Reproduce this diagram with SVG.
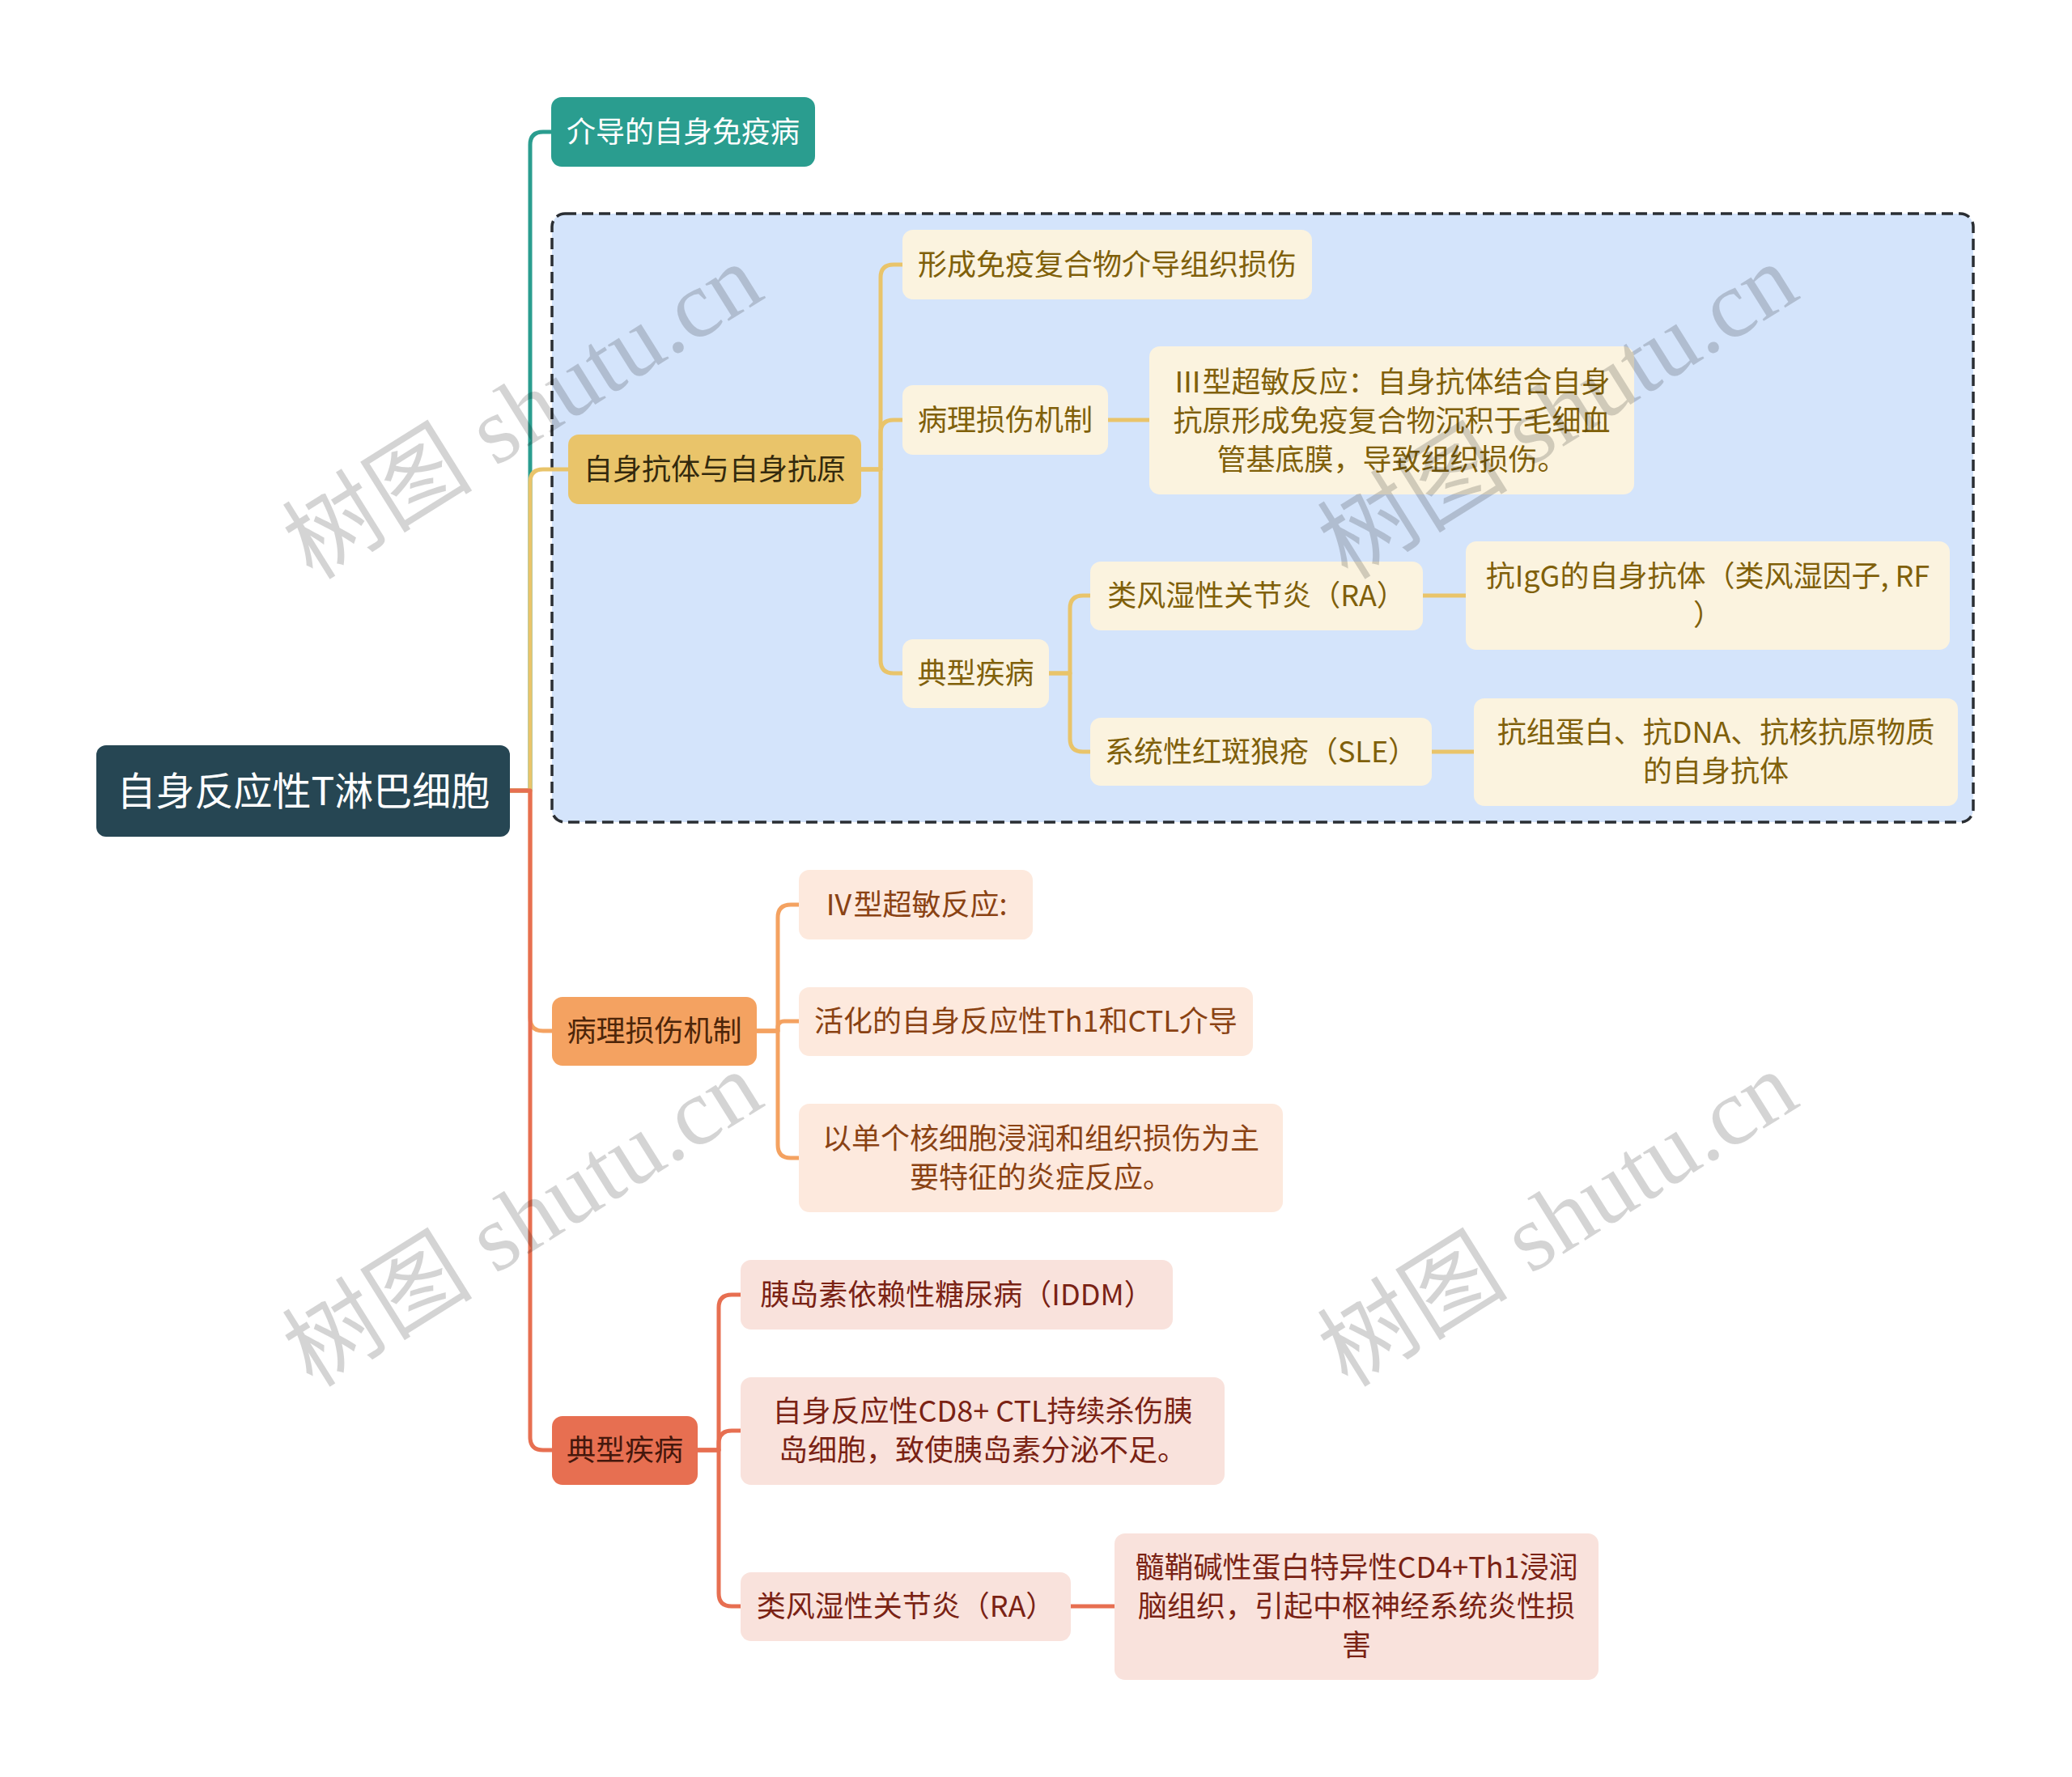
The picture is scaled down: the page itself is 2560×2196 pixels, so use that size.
<svg xmlns="http://www.w3.org/2000/svg" width="2560" height="2196" viewBox="0 0 2560 2196">
<style>
text{font-family:"Noto Sans CJK SC","Noto Sans",sans-serif;font-size:36px;text-anchor:middle}
.root-t{font-size:48px;fill:#ffffff}
.w{fill:#ffffff}
.l1y{fill:#33290d}
.l1o{fill:#4d2509}
.l1r{fill:#45170c}
.ty{fill:#80600a}
.to{fill:#8a4213}
.tr{fill:#7a2214}
.fy{fill:#fbf3df}
.fo{fill:#fde9dd}
.fr{fill:#f9e2dc}
.c{fill:none;stroke-width:5;stroke-linejoin:round}
.cg{stroke:#2a9d8f}.cy{stroke:#e9c46a}.co{stroke:#f4a261}.cr{stroke:#e76f51}
.wm{font-family:"Liberation Serif","Noto Sans CJK SC",serif;font-size:118px;fill:#000000;fill-opacity:0.17;text-anchor:middle}
</style>
<rect width="2560" height="2196" fill="#ffffff"/>
<g id="group-box">
<rect x="682" y="264" width="1756" height="752" rx="16" fill="#d4e4fb" stroke="#2a2e33" stroke-width="3.5" stroke-dasharray="14 7"/>
</g>
<g id="connectors">
<path class="c cg" d="M630,977 H655 V179 Q655,163 671,163 H681"/>
<path class="c cy" d="M630,977 H655 V596 Q655,580 671,580 H702"/>
<path class="c co" d="M630,977 H655 V1258 Q655,1274 671,1274 H682"/>
<path class="c cr" d="M630,977 H655 V1776 Q655,1792 671,1792 H682"/>
<path class="c cy" d="M1064,580 H1088 V343 Q1088,327 1104,327 H1115"/>
<path class="c cy" d="M1064,580 H1088 V535 Q1088,519 1104,519 H1115"/>
<path class="c cy" d="M1064,580 H1088 V816 Q1088,832 1104,832 H1115"/>
<path class="c cy" d="M1369,519 H1420"/>
<path class="c cy" d="M1296,832 H1322 V752 Q1322,736 1338,736 H1347"/>
<path class="c cy" d="M1296,832 H1322 V913 Q1322,929 1338,929 H1347"/>
<path class="c cy" d="M1758,736 H1811"/>
<path class="c cy" d="M1769,929 H1821"/>
<path class="c co" d="M935,1274 H961 V1134 Q961,1118 977,1118 H987"/>
<path class="c co" d="M935,1274 H961 V1270 Q961,1262 969,1262 H987"/>
<path class="c co" d="M935,1274 H961 V1415 Q961,1431 977,1431 H987"/>
<path class="c cr" d="M862,1792 H888 V1616 Q888,1600 904,1600 H915"/>
<path class="c cr" d="M862,1792 H888 V1784 Q888,1768 904,1768 H915"/>
<path class="c cr" d="M862,1792 H888 V1969 Q888,1985 904,1985 H915"/>
<path class="c cr" d="M1323,1985 H1377"/>
</g>
<g id="root">
<rect x="119" y="921" width="511" height="113" rx="12" fill="#264653"/>
<text class="root-t" x="375" y="995">自身反应性T淋巴细胞</text>
</g>
<g id="n-teal">
<rect x="681" y="120" width="326" height="86" rx="13" fill="#2a9d8f"/>
<text class="w" x="844" y="176">介导的自身免疫病</text>
</g>
<g id="n-yellow">
<rect x="702" y="537" width="362" height="86" rx="13" fill="#e9c46a"/>
<text class="l1y" x="883" y="593">自身抗体与自身抗原</text>
</g>
<g id="n-y-a">
<rect class="fy" x="1115" y="284" width="506" height="86" rx="13"/>
<text class="ty" x="1368" y="340">形成免疫复合物介导组织损伤</text>
</g>
<g id="n-y-b">
<rect class="fy" x="1115" y="476" width="254" height="86" rx="13"/>
<text class="ty" x="1242" y="532">病理损伤机制</text>
</g>
<g id="n-y-b1">
<rect class="fy" x="1420" y="428" width="599" height="183" rx="13"/>
<text class="ty" x="1719.5" y="485">Ⅲ型超敏反应：自身抗体结合自身</text>
<text class="ty" x="1719.5" y="533">抗原形成免疫复合物沉积于毛细血</text>
<text class="ty" x="1719.5" y="581">管基底膜，导致组织损伤。</text>
</g>
<g id="n-y-c">
<rect class="fy" x="1115" y="790" width="181" height="85" rx="13"/>
<text class="ty" x="1205.5" y="845">典型疾病</text>
</g>
<g id="n-y-c1">
<rect class="fy" x="1347" y="694" width="411" height="85" rx="13"/>
<text class="ty" x="1552.5" y="749">类风湿性关节炎（RA）</text>
</g>
<g id="n-y-c1a">
<rect class="fy" x="1811" y="669" width="598" height="134" rx="13"/>
<text class="ty" x="2110" y="725">抗IgG的自身抗体（类风湿因子, RF</text>
<text class="ty" x="2110" y="773">）</text>
</g>
<g id="n-y-c2">
<rect class="fy" x="1347" y="887" width="422" height="84" rx="13"/>
<text class="ty" x="1558" y="942">系统性红斑狼疮（SLE）</text>
</g>
<g id="n-y-c2a">
<rect class="fy" x="1821" y="863" width="598" height="133" rx="13"/>
<text class="ty" x="2120" y="918">抗组蛋白、抗DNA、抗核抗原物质</text>
<text class="ty" x="2120" y="966">的自身抗体</text>
</g>
<g id="n-orange">
<rect x="682" y="1232" width="253" height="85" rx="13" fill="#f4a261"/>
<text class="l1o" x="808.5" y="1287">病理损伤机制</text>
</g>
<g id="n-o-1">
<rect class="fo" x="987" y="1075" width="289" height="86" rx="13"/>
<text class="to" x="1131.5" y="1131">Ⅳ型超敏反应:</text>
</g>
<g id="n-o-2">
<rect class="fo" x="987" y="1220" width="561" height="85" rx="13"/>
<text class="to" x="1267.5" y="1275">活化的自身反应性Th1和CTL介导</text>
</g>
<g id="n-o-3">
<rect class="fo" x="987" y="1364" width="598" height="134" rx="13"/>
<text class="to" x="1286" y="1420">以单个核细胞浸润和组织损伤为主</text>
<text class="to" x="1286" y="1468">要特征的炎症反应。</text>
</g>
<g id="n-red">
<rect x="682" y="1750" width="180" height="85" rx="13" fill="#e76f51"/>
<text class="l1r" x="772" y="1805">典型疾病</text>
</g>
<g id="n-r-1">
<rect class="fr" x="915" y="1557" width="534" height="86" rx="13"/>
<text class="tr" x="1182" y="1613">胰岛素依赖性糖尿病（IDDM）</text>
</g>
<g id="n-r-2">
<rect class="fr" x="915" y="1702" width="598" height="133" rx="13"/>
<text class="tr" x="1214" y="1757">自身反应性CD8+ CTL持续杀伤胰</text>
<text class="tr" x="1214" y="1805">岛细胞，致使胰岛素分泌不足。</text>
</g>
<g id="n-r-3">
<rect class="fr" x="915" y="1943" width="408" height="85" rx="13"/>
<text class="tr" x="1119" y="1998">类风湿性关节炎（RA）</text>
</g>
<g id="n-r-3a">
<rect class="fr" x="1377" y="1895" width="598" height="181" rx="13"/>
<text class="tr" x="1676" y="1950">髓鞘碱性蛋白特异性CD4+Th1浸润</text>
<text class="tr" x="1676" y="1998">脑组织，引起中枢神经系统炎性损</text>
<text class="tr" x="1676" y="2046">害</text>
</g>
<g id="watermark">
<text class="wm" transform="translate(648,512) rotate(-32)" x="0" y="36">树图 shutu.cn</text>
<text class="wm" transform="translate(1927,512) rotate(-32)" x="0" y="36">树图 shutu.cn</text>
<text class="wm" transform="translate(648,1510) rotate(-32)" x="0" y="36">树图 shutu.cn</text>
<text class="wm" transform="translate(1927,1510) rotate(-32)" x="0" y="36">树图 shutu.cn</text>
</g>
</svg>
